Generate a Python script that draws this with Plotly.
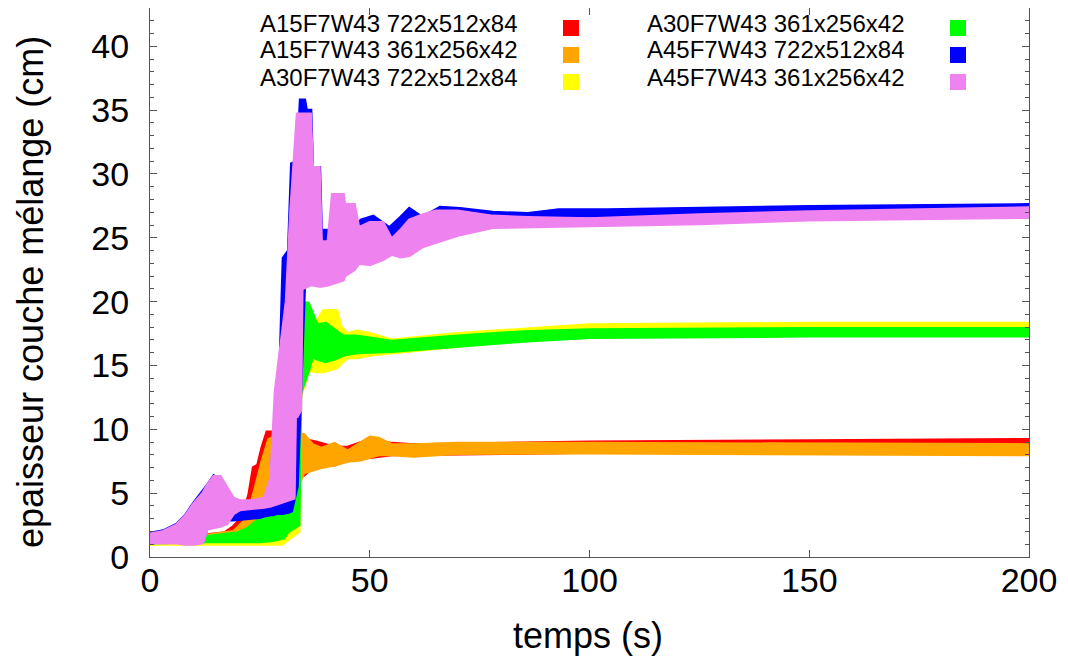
import plotly.graph_objects as go

# ---------------- data (envelopes of each band) ----------------
labels = ["A15F7W43 722x512x84", "A15F7W43 361x256x42", "A30F7W43 722x512x84",
          "A30F7W43 361x256x42", "A45F7W43 722x512x84", "A45F7W43 361x256x42"]
colors = ["#ff0000", "#ffa500", "#ffff00", "#00ff00", "#0000ff", "#ee82ee"]

t_red = [0, 12, 17, 19, 21, 22.5, 23.5, 24.5, 25.5, 26.6, 27.7, 29, 31, 33, 35, 38, 42, 45, 50, 55, 60, 80, 100, 150, 200]
hi_red = [1.7, 1.7, 1.9, 2.4, 3.1, 4.9, 7.0, 7.2, 8.6, 9.8, 9.8, 9.6, 9.5, 9.6, 9.2, 9.0, 8.6, 8.6, 9.2, 8.9, 8.8, 8.9, 9.0, 9.1, 9.2]
lo_red = [1.1, 1.1, 1.2, 1.4, 1.7, 2.0, 2.5, 3.0, 3.5, 4.0, 4.5, 5.0, 5.5, 6.0, 6.4, 7.3, 7.2, 7.6, 7.8, 8.0, 8.0, 8.1, 8.2, 8.3, 8.4]

t_orange = [0, 13, 19, 22, 24, 25.5, 27, 29, 31, 33, 35, 37, 39, 42, 45, 48, 50, 52, 55, 60, 70, 100, 150, 200]
hi_orange = [1.7, 1.7, 2.0, 3.0, 5.5, 7.5, 9.2, 9.5, 9.5, 9.7, 9.6, 8.8, 8.5, 8.9, 8.3, 9.0, 9.4, 9.3, 8.8, 8.8, 8.9, 8.9, 8.85, 8.8]
lo_orange = [1.1, 1.1, 1.2, 1.5, 2.0, 3.0, 4.0, 5.0, 5.0, 5.0, 6.6, 6.8, 7.0, 7.2, 7.5, 7.6, 7.8, 8.0, 8.0, 7.9, 8.1, 8.15, 8.1, 8.0]

t_yellow = [0, 13, 20, 25, 30, 33.9, 34.3, 36, 38, 39.5, 42.5, 43.5, 45, 47, 50, 55, 70, 100, 150, 200]
hi_yellow = [1.7, 1.6, 1.8, 2.3, 3.3, 4.5, 18.5, 18.5, 18.5, 19.3, 19.3, 18.0, 17.5, 17.7, 17.5, 17.0, 17.5, 18.2, 18.3, 18.3]
lo_yellow = [1.0, 1.0, 1.0, 1.0, 1.0, 2.0, 12.5, 14.6, 14.5, 14.5, 14.8, 15.2, 15.6, 15.6, 15.8, 16.0, 16.5, 17.5, 17.6, 17.65]

t_green = [0, 13, 20, 22, 25, 28, 30.5, 31.5, 33.9, 34.3, 36, 37, 38, 40, 42, 44, 47, 55, 70, 85, 100, 150, 200]
hi_green = [1.7, 1.6, 1.9, 2.2, 3.0, 3.6, 4.0, 5.0, 5.0, 19.9, 19.9, 19.0, 18.2, 18.3, 17.8, 17.3, 17.3, 16.9, 17.3, 17.65, 17.8, 17.9, 17.9]
lo_green = [1.1, 1.2, 1.2, 1.2, 1.2, 1.3, 1.5, 2.0, 2.5, 12.8, 14.5, 15.7, 15.5, 15.3, 15.5, 15.8, 16.0, 16.1, 16.5, 16.9, 17.2, 17.3, 17.3]

t_blue = [0, 3, 6, 8, 10, 12, 13, 14.5, 16, 17, 19, 22, 25, 26, 27.5, 28, 28.8, 29.5, 30.3, 31.5, 32.2, 33.5, 34.2, 35.2, 35.6, 36.6, 37,
          38.6, 39, 40.2, 40.8, 41.5, 42.7, 43.5, 46, 48, 50.8, 54.5, 57, 59, 62, 66, 70.5, 78, 86, 93, 104, 150, 200]
hi_blue = [1.85, 2.05, 2.55, 3.25, 4.25, 5.1, 5.6, 6.35, 6.0, 3.6, 3.7, 4.0, 4.2, 4.3, 5.0, 9.0, 10.3, 14.0, 23.4, 24.0, 30.8, 31.0, 35.8, 35.8, 35.0, 35.0, 30.5,
           30.5, 25.6, 25.6, 25.2, 27.3, 27.3, 25.8, 25.5, 26.4, 26.7, 25.8, 26.6, 27.3, 26.6, 27.4, 27.3, 27.0, 26.9, 27.2, 27.2, 27.45, 27.6]
lo_blue = [1.2, 1.2, 1.2, 1.2, 1.2, 1.2, 2.25, 2.35, 2.5, 2.9, 2.9, 3.0, 3.1, 3.2, 3.3, 3.3, 3.4, 3.4, 3.4, 3.5, 3.6, 5.5, 12.0, 21.5, 21.8, 22.0, 22.0,
           22.0, 22.0, 22.5, 22.8, 23.0, 23.2, 23.5, 24.0, 24.3, 24.6, 24.8, 25.2, 25.5, 25.9, 26.3, 26.7, 26.6, 26.6, 26.7, 26.7, 27.06, 27.2]

t_pink = [0, 3, 6, 8, 10, 12, 13, 14.5, 16, 17.5, 19, 20.5, 23, 26, 27.5, 28.5, 30, 31, 32, 32.8, 33.1, 33.5, 34.3, 34.6, 36.5, 37,
          38.5, 39, 40.5, 41.5, 44, 44.3, 46.5, 47.5, 50, 53, 55, 57, 59, 62, 65, 70, 78, 86, 100, 125, 150, 175, 200]
hi_pink = [1.8, 2.0, 2.5, 3.2, 4.2, 5.0, 5.6, 6.3, 6.3, 5.5, 4.6, 4.4, 4.4, 4.6, 6.2, 13.0, 17.0, 20.0, 27.0, 31.0, 33.0, 34.7, 34.7, 34.7, 34.7, 30.5,
           30.5, 24.7, 24.7, 28.4, 28.4, 27.6, 27.6, 25.8, 26.2, 26.2, 24.9, 25.6, 26.4, 26.8, 27.1, 27.1, 26.7, 26.6, 26.5, 26.8, 27.05, 27.2, 27.35]
lo_pink = [1.1, 1.1, 1.1, 1.0, 1.0, 1.1, 2.2, 2.3, 2.4, 2.6, 3.4, 3.7, 3.8, 3.9, 4.0, 4.1, 4.3, 4.4, 4.5, 4.6, 11.0, 11.0, 11.5, 21.0, 21.3, 21.3,
           21.2, 21.2, 21.3, 21.4, 21.7, 22.0, 22.5, 23.0, 22.9, 23.3, 23.7, 23.5, 23.6, 24.3, 24.6, 25.2, 25.8, 25.9, 25.95, 26.1, 26.4, 26.5, 26.6]

series = [
    (t_red, lo_red, hi_red),
    (t_orange, lo_orange, hi_orange),
    (t_yellow, lo_yellow, hi_yellow),
    (t_green, lo_green, hi_green),
    (t_blue, lo_blue, hi_blue),
    (t_pink, lo_pink, hi_pink),
]

x_ticks = [0, 50, 100, 150, 200]
y_ticks = [0, 5, 10, 15, 20, 25, 30, 35, 40]

FONT = "Liberation Sans, Arial, sans-serif"

fig = go.Figure()
for (t, lo, hi), name, col in zip(series, labels, colors):
    fig.add_trace(go.Scatter(
        x=list(t) + list(t)[::-1],
        y=list(hi) + list(lo)[::-1],
        mode="lines", fill="toself", fillcolor=col,
        line=dict(color=col, width=3),
        name=name, showlegend=False, hoverinfo="skip",
    ))

# page geometry (the page body adds an 8 px offset)
OFF = 8
FW, FH = 1068 - OFF, 662 - OFF
L, R, T, B = 150, 1029, 8, 557          # plot area in page pixels
W, H = R - L, B - T
def px(x):
    return (x - L) / W
def py(y):
    return (B - y) / H

annotations = []
shapes = []
col_text_right = [519, 906]
col_box = [(563, 579), (950, 966)]
row_text = [23, 50, 77]
row_box = [(20, 36), (47, 63), (74, 90)]
for i, (name, col) in enumerate(zip(labels, colors)):
    c, r = i // 3, i % 3
    annotations.append(dict(
        x=px(col_text_right[c]), y=py(row_text[r]), xref="paper", yref="paper",
        text=name, showarrow=False, xanchor="right", yanchor="middle", borderpad=0,
        font=dict(family=FONT, size=24, color="black")))
    shapes.append(dict(
        type="rect", xref="paper", yref="paper",
        x0=px(col_box[c][0]), x1=px(col_box[c][1]),
        y0=py(row_box[r][1]), y1=py(row_box[r][0]),
        fillcolor=col, line=dict(width=0)))

annotations.append(dict(
    x=px(588), y=py(635), xref="paper", yref="paper", text="temps (s)",
    showarrow=False, xanchor="center", yanchor="middle",
    font=dict(family=FONT, size=36, color="black")))
annotations.append(dict(
    x=px(30), y=py(292), xref="paper", yref="paper", text="epaisseur couche mélange (cm)",
    showarrow=False, xanchor="center", yanchor="middle", textangle=-90,
    font=dict(family=FONT, size=36, color="black")))

axis_common = dict(
    showline=True, linecolor="#555555", linewidth=1, mirror="ticks",
    ticks="inside", tickcolor="#555555", ticklen=7, tickwidth=1,
    showgrid=False, zeroline=False,
    tickfont=dict(family=FONT, size=34, color="black"),
)

fig.update_layout(
    width=FW, height=FH,
    margin=dict(l=L - OFF, r=FW - (R - OFF), t=T - OFF, b=FH - (B - OFF), pad=0),
    paper_bgcolor="white", plot_bgcolor="white",
    showlegend=False,
    xaxis=dict(range=[0, 200], tickvals=x_ticks, ticktext=[str(v) for v in x_ticks],
               ticklabelstandoff=-7, **axis_common),
    yaxis=dict(range=[0, 43], tickvals=y_ticks, ticktext=[str(v) for v in y_ticks],
               ticklabelstandoff=13,
               minor=dict(dtick=1, ticks="inside", ticklen=4, tickcolor="#555555", showgrid=False),
               **axis_common),
    annotations=annotations,
    shapes=shapes,
)

fig.write_html("out.html")
